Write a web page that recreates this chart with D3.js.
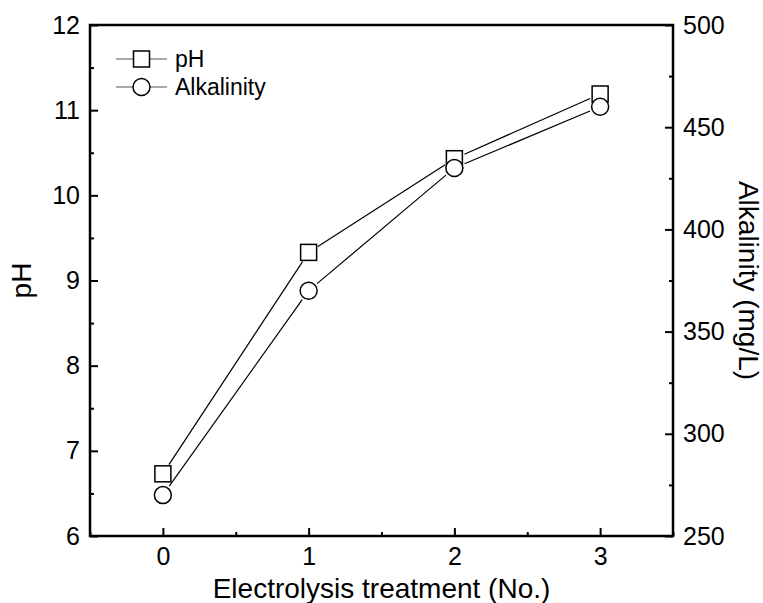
<!DOCTYPE html>
<html lang="en">
    <head>
        <meta charset="utf-8">
        <title>pH and Alkalinity</title>
        <script src="https://d3js.org/d3.v7.min.js"></script>
        <style>
            body { margin: 0; background: #fff; }
            text { font-family: "Liberation Sans", Arial, sans-serif; fill: #000; }
        </style>
    </head>
    <body>
        <div id="dataviz"></div>
        <script>
            // data
            var treatments = [0, 1, 2, 3];
            var phValues = [6.73, 9.33, 10.43, 11.19];
            var alkValues = [270, 370, 430, 460];
            var phTicks = [6, 7, 8, 9, 10, 11, 12];
            var alkTicks = [250, 300, 350, 400, 450, 500];

            var W = 763, H = 603;
            var margin = {top: 25, right: 90, bottom: 67, left: 90},
                width = W - margin.left - margin.right,
                height = H - margin.top - margin.bottom;

            var svg = d3.select("#dataviz")
                        .append("svg")
                        .attr("width", W)
                        .attr("height", H)
                        .append("g")
                        .attr("transform", "translate(" + margin.left + "," + margin.top + ")");

            var x = d3.scaleLinear().domain([-0.5, 3.5]).range([0, width]);
            var yL = d3.scaleLinear().domain([6, 12]).range([height, 0]);
            var yR = d3.scaleLinear().domain([250, 500]).range([height, 0]);

            function minors(ticks) {
                var out = [];
                for (var i = 0; i < ticks.length - 1; i++) out.push((ticks[i] + ticks[i + 1]) / 2);
                return out;
            }
            var xMinor = [-0.5, 0.5, 1.5, 2.5, 3.5];

            // minor ticks (no labels)
            svg.append("g").attr("class", "minor")
               .call(d3.axisLeft(yL).tickValues(minors(phTicks)).tickSize(-4).tickFormat(""));
            svg.append("g").attr("class", "minor")
               .attr("transform", "translate(" + width + ",0)")
               .call(d3.axisRight(yR).tickValues(minors(alkTicks)).tickSize(-4).tickFormat(""));
            svg.append("g").attr("class", "minor")
               .attr("transform", "translate(0," + height + ")")
               .call(d3.axisBottom(x).tickValues(xMinor).tickSize(-4).tickFormat(""));

            // major axes
            svg.append("g").attr("class", "major")
               .call(d3.axisLeft(yL).tickValues(phTicks).tickSize(-8).tickPadding(10).tickFormat(d3.format("d")));
            svg.append("g").attr("class", "major")
               .attr("transform", "translate(" + width + ",0)")
               .call(d3.axisRight(yR).tickValues(alkTicks).tickSize(-8).tickPadding(10).tickFormat(d3.format("d")));
            svg.append("g").attr("class", "major")
               .attr("transform", "translate(0," + height + ")")
               .call(d3.axisBottom(x).tickValues(treatments).tickSize(-8).tickPadding(11).tickFormat(d3.format("d")));

            svg.selectAll(".tick line").attr("stroke", "#000").attr("stroke-width", 2);
            svg.selectAll(".domain").remove();
            svg.selectAll(".major text").style("font-size", "25px");

            // frame
            svg.append("rect")
               .attr("width", width).attr("height", height)
               .attr("fill", "none").attr("stroke", "#000").attr("stroke-width", 2.5);

            // lines with small gaps round markers
            function gapSegments(yScale, vals, gap) {
                var segs = [];
                for (var i = 0; i < vals.length - 1; i++) {
                    var x1 = x(treatments[i]), y1 = yScale(vals[i]),
                        x2 = x(treatments[i + 1]), y2 = yScale(vals[i + 1]);
                    var dx = x2 - x1, dy = y2 - y1, len = Math.sqrt(dx * dx + dy * dy);
                    segs.push([x1 + dx / len * gap, y1 + dy / len * gap,
                               x2 - dx / len * gap, y2 - dy / len * gap]);
                }
                return segs;
            }

            svg.selectAll("phSeg")
               .data(gapSegments(yL, phValues, 11)).enter()
               .append("line")
               .attr("x1", function(d) { return d[0]; }).attr("y1", function(d) { return d[1]; })
               .attr("x2", function(d) { return d[2]; }).attr("y2", function(d) { return d[3]; })
               .attr("stroke", "#000").attr("stroke-width", 1.2);

            svg.selectAll("alkSeg")
               .data(gapSegments(yR, alkValues, 11)).enter()
               .append("line")
               .attr("x1", function(d) { return d[0]; }).attr("y1", function(d) { return d[1]; })
               .attr("x2", function(d) { return d[2]; }).attr("y2", function(d) { return d[3]; })
               .attr("stroke", "#000").attr("stroke-width", 1.2);

            svg.selectAll("phPt")
               .data(phValues).enter()
               .append("rect")
               .attr("x", function(d, i) { return x(treatments[i]) - 8; })
               .attr("y", function(d) { return yL(d) - 8; })
               .attr("width", 16).attr("height", 16)
               .attr("fill", "#fff").attr("stroke", "#000").attr("stroke-width", 1.5);

            svg.selectAll("alkPt")
               .data(alkValues).enter()
               .append("circle")
               .attr("cx", function(d, i) { return x(treatments[i]); })
               .attr("cy", function(d) { return yR(d); })
               .attr("r", 8.5)
               .attr("fill", "#fff").attr("stroke", "#000").attr("stroke-width", 1.5);

            // legend
            var legend = svg.append("g").attr("transform", "translate(26,34)");
            legend.append("line").attr("x1", 0).attr("x2", 51).attr("y1", 0).attr("y2", 0)
                  .attr("stroke", "#555").attr("stroke-width", 1.2);
            legend.append("rect").attr("x", 17.5).attr("y", -8).attr("width", 16).attr("height", 16)
                  .attr("fill", "#fff").attr("stroke", "#000").attr("stroke-width", 1.5);
            legend.append("text").attr("x", 59).attr("y", 8).style("font-size", "23px").text("pH");
            legend.append("line").attr("x1", 0).attr("x2", 51).attr("y1", 28).attr("y2", 28)
                  .attr("stroke", "#555").attr("stroke-width", 1.2);
            legend.append("circle").attr("cx", 25.5).attr("cy", 28).attr("r", 8.5)
                  .attr("fill", "#fff").attr("stroke", "#000").attr("stroke-width", 1.5);
            legend.append("text").attr("x", 59).attr("y", 36).style("font-size", "23px").text("Alkalinity");

            // axis titles
            svg.append("text")
               .attr("x", width / 2).attr("y", height + 62)
               .style("text-anchor", "middle").style("font-size", "28px")
               .text("Electrolysis treatment (No.)");
            svg.append("text")
               .attr("transform", "translate(" + (-59) + "," + (height / 2) + ") rotate(-90)")
               .style("text-anchor", "middle").style("font-size", "28px")
               .text("pH");
            svg.append("text")
               .attr("transform", "translate(" + (width + 66) + "," + (height / 2) + ") rotate(90)")
               .style("text-anchor", "middle").style("font-size", "28px")
               .text("Alkalinity (mg/L)");
        </script>
    </body>
</html>
